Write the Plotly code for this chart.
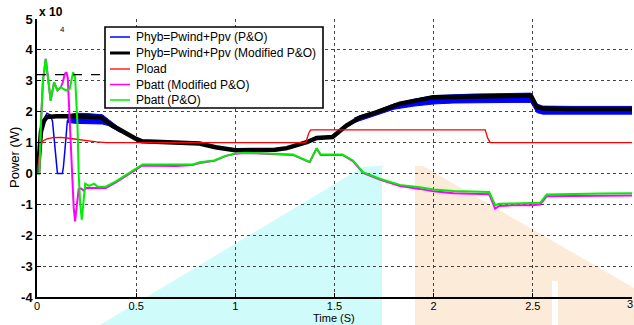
import plotly.graph_objects as go

# ---------------- data ----------------
BLACK_T = [0, 0.005, 0.02, 0.035, 0.05, 0.1, 0.2, 0.3, 0.32, 0.38, 0.45, 0.5, 0.53, 0.6, 0.7, 0.82, 0.9,
           1.0, 1.1, 1.2, 1.26, 1.36, 1.41, 1.49, 1.56, 1.63, 1.71, 1.83, 2.0, 2.17, 2.3, 2.49, 2.52,
           2.55, 2.7, 2.85, 3.0]
BLACK_P = [0, 0.1, 1.35, 1.7, 1.83, 1.85, 1.85, 1.84, 1.82, 1.55, 1.28, 1.12, 1.04, 1.03, 1.02, 0.97, 0.85,
           0.75, 0.76, 0.77, 0.82, 1.01, 1.15, 1.18, 1.55, 1.82, 1.98, 2.26, 2.47, 2.49, 2.5, 2.52, 2.15,
           2.1, 2.09, 2.09, 2.09]

BLUE_T = [0, 0.005, 0.02, 0.04, 0.05, 0.065, 0.078, 0.085, 0.092, 0.098, 0.103, 0.128, 0.133, 0.14, 0.147,
          0.153, 0.17, 0.2, 0.25, 0.3, 0.33, 0.38, 0.45, 0.5, 0.53, 0.6, 0.7, 0.82, 0.9, 1.0, 1.1, 1.2,
          1.26, 1.36, 1.41, 1.49, 1.56, 1.63, 1.71, 1.83, 2.0, 2.17, 2.3, 2.49, 2.52, 2.55, 2.7, 2.85, 3.0]
BLUE_P = [0, 0.2, 1.3, 1.8, 1.95, 1.9, 1.7, 1.2, 0.6, 0.2, 0.0, 0.0, 0.2, 0.7, 1.3,
          1.7, 1.75, 1.76, 1.75, 1.75, 1.72, 1.5, 1.25, 1.1, 1.03, 1.03, 1.02, 0.96, 0.85, 0.74, 0.75, 0.77,
          0.82, 1.0, 1.13, 1.16, 1.5, 1.78, 1.92, 2.18, 2.38, 2.4, 2.42, 2.45, 2.08, 1.98, 1.98, 1.98, 1.98]

BLUE_BAND1_T = [0.153, 0.2, 0.25, 0.3, 0.33, 0.36, 0.42]
BLUE_BAND1_HI = [1.9, 1.95, 1.94, 1.93, 1.9, 1.75, 1.45]
BLUE_BAND1_LO = [1.65, 1.62, 1.6, 1.6, 1.6, 1.55, 1.33]

BLUE_BAND2_T = [1.6, 1.7, 1.8, 1.9, 2.0, 2.1, 2.2, 2.3, 2.4, 2.49, 2.52, 2.55, 2.7, 2.85, 3.0]
BLUE_BAND2_HI = [1.8, 2.0, 2.25, 2.4, 2.52, 2.55, 2.57, 2.58, 2.58, 2.6, 2.25, 2.18, 2.17, 2.17, 2.17]
BLUE_BAND2_LO = [1.65, 1.87, 2.08, 2.18, 2.25, 2.28, 2.29, 2.3, 2.3, 2.3, 1.97, 1.92, 1.92, 1.92, 1.92]

RED_T = [0, 0.008, 0.02, 0.03, 0.05, 0.08, 0.12, 0.16, 0.2, 0.25, 0.3, 0.35, 1.355, 1.37, 1.38,
         2.26, 2.272, 2.285, 3.0]
RED_P = [0, 0.4, 0.95, 1.05, 1.12, 1.16, 1.17, 1.14, 1.1, 1.05, 1.02, 1.0, 1.0, 1.3, 1.41,
         1.41, 1.15, 1.0, 1.0]

GREEN_T = [0, 0.012, 0.019, 0.03, 0.044, 0.055, 0.069, 0.086, 0.103, 0.12, 0.145, 0.165, 0.182, 0.192,
           0.204, 0.21, 0.218, 0.226, 0.235, 0.243, 0.263, 0.288, 0.305, 0.347, 0.4, 0.482, 0.532, 0.6,
           0.7, 0.785, 0.82, 0.894, 0.95, 1.0, 1.05, 1.1, 1.2, 1.29, 1.375, 1.41, 1.43, 1.54, 1.593,
           1.644, 1.728, 1.83, 1.93, 2.0, 2.1, 2.2, 2.28, 2.31, 2.33, 2.4, 2.5, 2.537, 2.57, 2.7, 2.85, 3.0]
GREEN_P = [0, 0, 1.5, 3.0, 3.71, 3.1, 2.36, 2.95, 2.69, 2.79, 2.69, 2.74, 3.28, 3.12,
           1.6, 0, -1.0, -1.5, -0.9, -0.33, -0.4, -0.33, -0.42, -0.43, -0.25, 0.1, 0.29, 0.29,
           0.28, 0.29, 0.36, 0.42, 0.57, 0.65, 0.67, 0.66, 0.64, 0.61, 0.37, 0.82, 0.61, 0.61, 0.42,
           0.04, -0.17, -0.37, -0.45, -0.52, -0.57, -0.58, -0.6, -1.03, -0.98, -0.97, -0.97, -0.95, -0.68,
           -0.66, -0.65, -0.64]

MAG_T = [0, 0.012, 0.019, 0.03, 0.044, 0.055, 0.069, 0.086, 0.103, 0.12, 0.13, 0.14, 0.148, 0.155,
         0.165, 0.175, 0.185, 0.192, 0.2, 0.21, 0.22, 0.235, 0.25, 0.275, 0.3, 0.347, 0.4, 0.482, 0.532,
         0.6, 0.7, 0.785, 0.82, 0.894, 0.95, 1.0, 1.05, 1.1, 1.2, 1.29, 1.375, 1.41, 1.43, 1.54, 1.593,
         1.644, 1.728, 1.83, 1.93, 2.0, 2.1, 2.2, 2.28, 2.31, 2.33, 2.4, 2.5, 2.537, 2.57, 2.7, 2.85, 3.0]
MAG_P = [0, 0, 1.5, 3.0, 3.71, 3.1, 2.36, 2.95, 2.69, 2.79, 2.95, 3.22, 3.28, 3.1,
         1.6, 0.1, -1.1, -1.55, -1.0, -0.5, -0.48, -0.55, -0.47, -0.47, -0.48, -0.47, -0.28, 0.07, 0.26,
         0.25, 0.24, 0.27, 0.34, 0.41, 0.56, 0.64, 0.66, 0.65, 0.63, 0.6, 0.36, 0.81, 0.6, 0.6, 0.4,
         0.02, -0.2, -0.41, -0.5, -0.58, -0.64, -0.65, -0.67, -1.14, -1.05, -1.03, -1.03, -1.0, -0.74,
         -0.73, -0.72, -0.71]

DASH_T = [0, 0.34]
DASH_P = [3.2, 3.2]

X_TICKS = [0, 0.5, 1, 1.5, 2, 2.5, 3]
X_TICK_LABELS = ["0", "0.5", "1", "1.5", "2", "2.5", ""]   # "3" drawn at the page edge below
X_LAST_LABEL = "3"
Y_TICKS = [-4, -3, -2, -1, 0, 1, 2, 3, 4, 5]
Y_TICK_LABELS = ["-4", "-3", "-2", "-1", "0", "1", "2", "3", "4", "5"]

NAMES = ["Phyb=Pwind+Ppv (P&O)", "Phyb=Pwind+Ppv (Modified P&O)", "Pload",
         "Pbatt (Modified P&O)", "Pbatt (P&O)"]
COLORS = ["#0000FF", "#000000", "#FF0000", "#FF00FF", "#00EE00"]

FONT = "Arial, 'Liberation Sans', sans-serif"

fig = go.Figure()

# blue noisy band
for bt, hi, lo in [(BLUE_BAND1_T, BLUE_BAND1_HI, BLUE_BAND1_LO),
                   (BLUE_BAND2_T, BLUE_BAND2_HI, BLUE_BAND2_LO)]:
    fig.add_trace(go.Scatter(x=bt + bt[::-1], y=hi + lo[::-1], fill="toself",
                             fillcolor=COLORS[0], line=dict(color=COLORS[0], width=1),
                             mode="lines", showlegend=False, hoverinfo="skip"))

fig.add_trace(go.Scatter(x=BLUE_T, y=BLUE_P, mode="lines", name=NAMES[0],
                         line=dict(color=COLORS[0], width=1.5)))
fig.add_trace(go.Scatter(x=BLACK_T, y=BLACK_P, mode="lines", name=NAMES[1],
                         line=dict(color=COLORS[1], width=4.5)))
fig.add_trace(go.Scatter(x=RED_T, y=RED_P, mode="lines", name=NAMES[2],
                         line=dict(color=COLORS[2], width=1.3)))
fig.add_trace(go.Scatter(x=MAG_T, y=MAG_P, mode="lines", name=NAMES[3],
                         line=dict(color=COLORS[3], width=2)))
fig.add_trace(go.Scatter(x=GREEN_T, y=GREEN_P, mode="lines", name=NAMES[4],
                         line=dict(color=COLORS[4], width=2)))
fig.add_trace(go.Scatter(x=DASH_T, y=DASH_P, mode="lines", showlegend=False,
                         line=dict(color="#000000", width=1.2, dash="dash")))

# plot area in pixels: left 37, right 632, top 19, bottom 297
L, R, T, B = 37, 2, 19, 28
W, H = 634, 325
PW, PH = W - L - R, H - T - B


def px2paper(px, py):
    return (px - L) / PW, (H - B - py) / PH


def poly(points):
    pts = [px2paper(x, y) for x, y in points]
    return "M " + " L ".join(f"{x:.4f},{y:.4f}" for x, y in pts) + " Z"


# faint background watermark
shapes = [
    dict(type="path", xref="paper", yref="paper", layer="below", line=dict(width=0),
         fillcolor="#CFFBFB",
         path=poly([(100, 325), (363, 167), (377, 166), (382, 166), (382, 325)])),
    dict(type="path", xref="paper", yref="paper", layer="below", line=dict(width=0),
         fillcolor="#FDEBDA",
         path=poly([(415, 325), (415, 166), (423, 166), (634, 288), (634, 325)])),
    dict(type="path", xref="paper", yref="paper", layer="below", line=dict(width=0),
         fillcolor="white", path=poly([(552, 281), (558, 281), (558, 325), (552, 325)])),
]

# MATLAB-style legend box (compact rows)
LEG_X0, LEG_Y0, LEG_X1, LEG_Y1 = 105, 27, 323, 108
bx0, by0 = px2paper(LEG_X0, LEG_Y1)
bx1, by1 = px2paper(LEG_X1, LEG_Y0)
shapes.append(dict(type="rect", xref="paper", yref="paper", layer="above",
                   x0=bx0, y0=by0, x1=bx1, y1=by1, fillcolor="white",
                   line=dict(color="black", width=1.6)))
annotations = []
ROW_Y = [37, 53, 69, 84.5, 100]
SAMPLE_W = [1.5, 3, 1.3, 1.5, 1.5]
for name, col, ry, sw in zip(NAMES, COLORS, ROW_Y, SAMPLE_W):
    lx0, ly = px2paper(110, ry)
    lx1, _ = px2paper(130, ry)
    shapes.append(dict(type="line", xref="paper", yref="paper", layer="above",
                       x0=lx0, y0=ly, x1=lx1, y1=ly, line=dict(color=col, width=sw)))
    tx, _ = px2paper(134, ry)
    annotations.append(dict(text=name, xref="paper", yref="paper", x=tx, y=ly,
                            xanchor="left", yanchor="middle", showarrow=False,
                            font=dict(family=FONT, size=12, color="black")))

annotations += [
    dict(text="<b>x 10</b>", xref="paper", yref="paper", x=0, y=px2paper(0, 12)[1],
         xanchor="left", yanchor="middle", showarrow=False,
         font=dict(family=FONT, size=12)),
    dict(text="4", xref="paper", yref="paper", x=px2paper(62, 0)[0], y=px2paper(0, 30)[1],
         xanchor="center", yanchor="middle", showarrow=False,
         font=dict(family=FONT, size=8)),
    dict(text="Time (S)", xref="paper", yref="paper", x=px2paper(334, 0)[0], y=px2paper(0, 325)[1],
         xanchor="center", yanchor="bottom", showarrow=False, borderpad=0,
         font=dict(family=FONT, size=11)),
    dict(text="Power (W)", xref="paper", yref="paper", x=px2paper(14, 0)[0], y=px2paper(0, 158)[1],
         xanchor="center", yanchor="middle", showarrow=False, textangle=-90,
         font=dict(family=FONT, size=13)),
    dict(text=X_LAST_LABEL, xref="paper", yref="paper", x=px2paper(634, 0)[0], y=px2paper(0, 304)[1],
         xanchor="right", yanchor="middle", showarrow=False, borderpad=0,
         font=dict(family=FONT, size=11)),
]

fig.update_layout(
    width=W, height=H,
    margin=dict(l=L, r=R, t=T, b=B, pad=0),
    paper_bgcolor="white", plot_bgcolor="rgba(0,0,0,0)",
    font=dict(family=FONT, color="black", size=12),
    shapes=shapes,
    showlegend=False,
    xaxis=dict(range=[0, 3], tickvals=X_TICKS, ticktext=X_TICK_LABELS,
               showgrid=True, gridcolor="#444444", griddash="dot", gridwidth=1,
               zeroline=False, showline=True, linecolor="black", linewidth=1.5,
               ticks="inside", ticklen=4, tickcolor="black", automargin=False,
               ticklabelstandoff=-2,
               tickfont=dict(family=FONT, size=11)),
    yaxis=dict(range=[-4, 5], tickvals=Y_TICKS, ticktext=Y_TICK_LABELS,
               showgrid=True, gridcolor="#444444", griddash="dot", gridwidth=1,
               zeroline=False, showline=True, linecolor="black", linewidth=1.5,
               ticks="inside", ticklen=4, tickcolor="black", automargin=False,
               tickfont=dict(family=FONT, size=13, weight="bold")),
    annotations=annotations,
)

fig.write_html("out.html")
